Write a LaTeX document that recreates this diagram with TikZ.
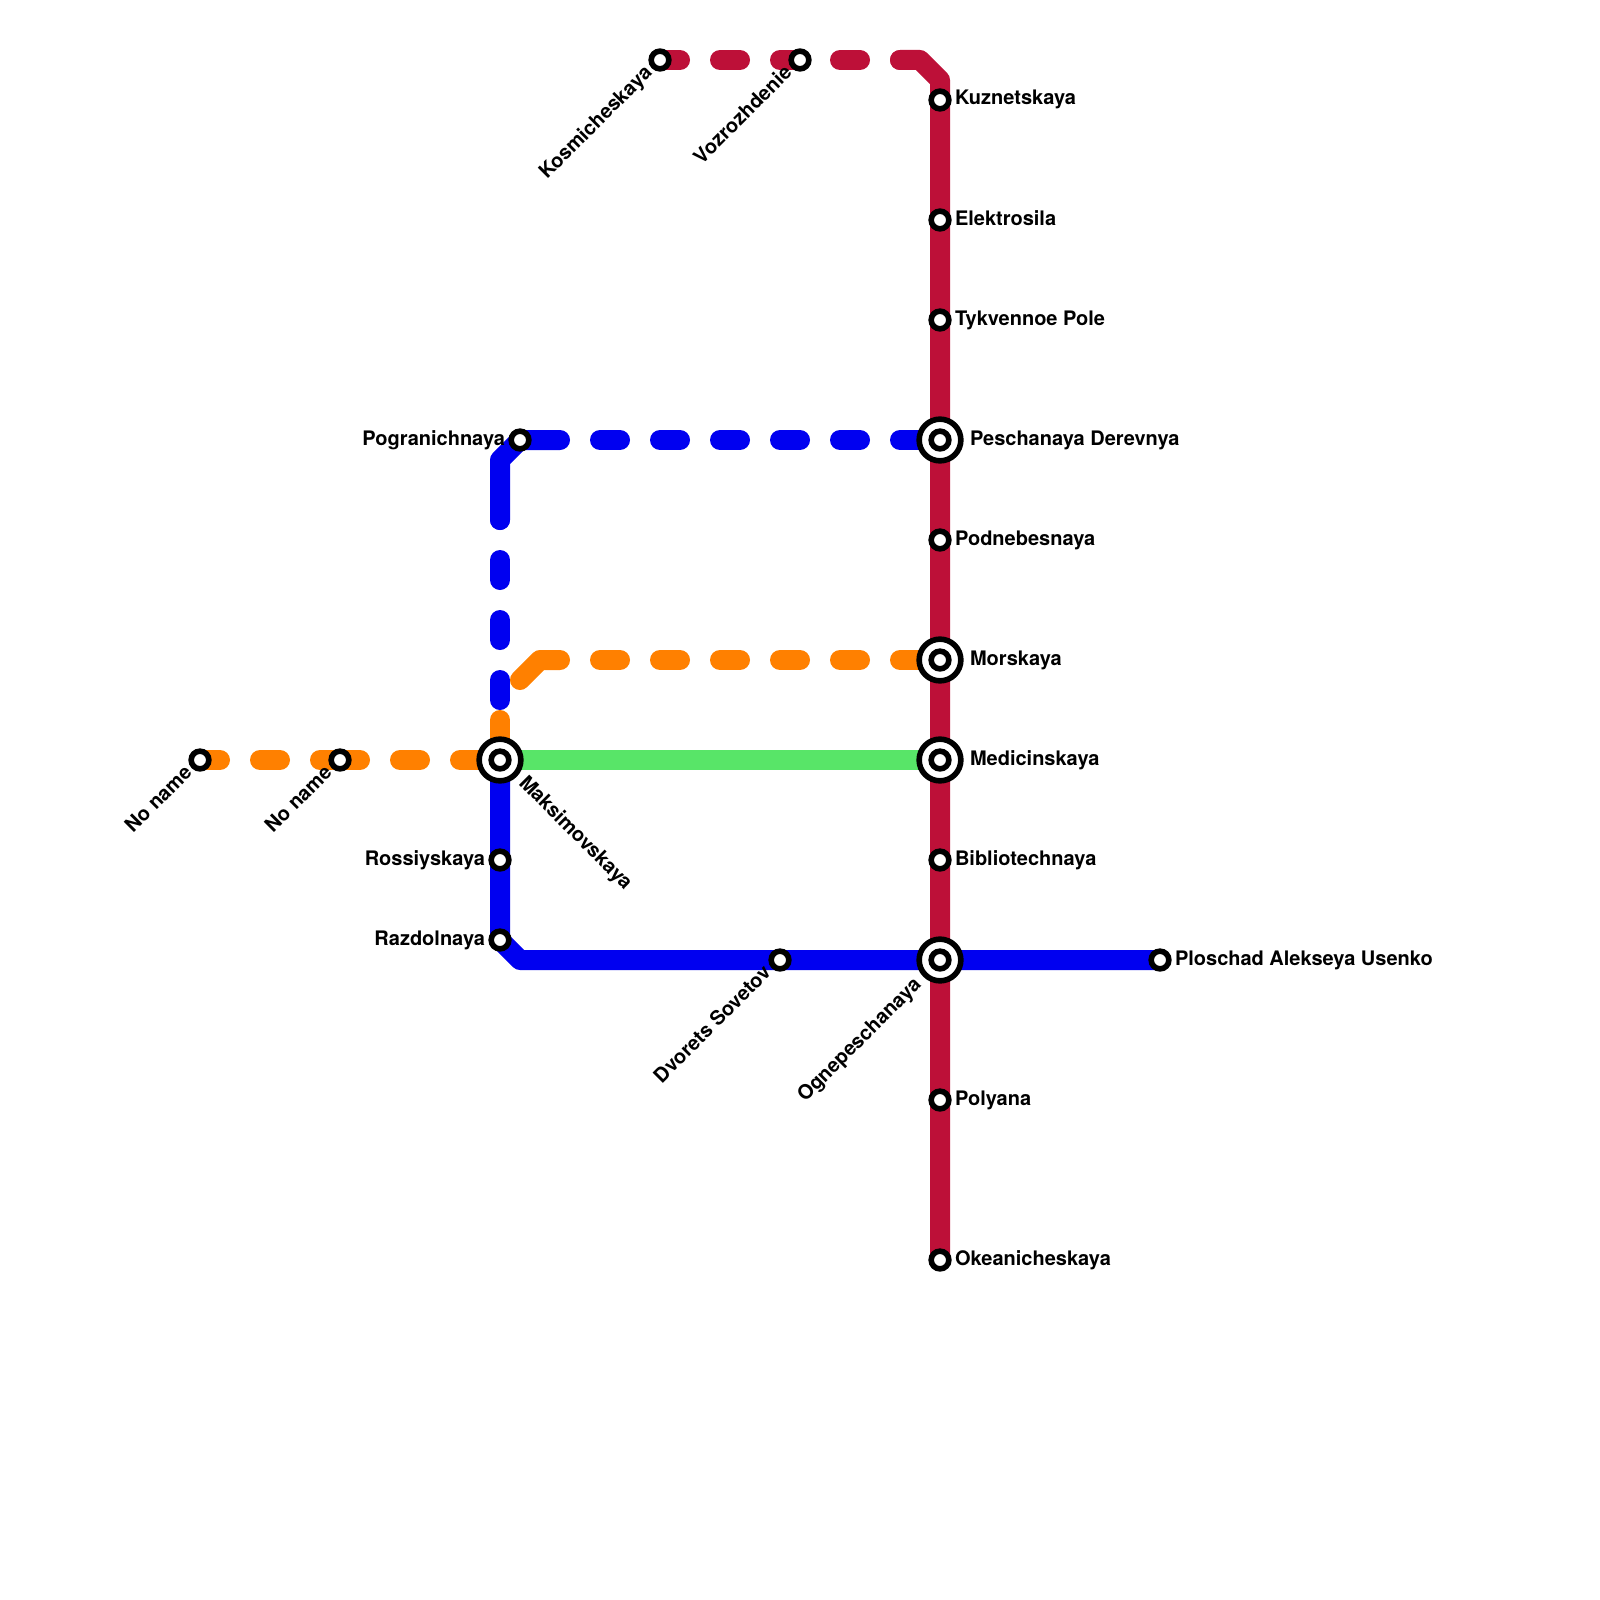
\documentclass[tikz,border=0pt]{standalone}
\usepackage{fontspec}
\setmainfont{TeX Gyre Heros}
\usetikzlibrary{backgrounds}
\definecolor{lred}{HTML}{BD1038}
\definecolor{lblue}{HTML}{0000F0}
\definecolor{lorange}{HTML}{FF8000}
\definecolor{lgreen}{HTML}{58E568}
\tikzset{
  stn/.style={circle,draw=black,fill=white,line width=5.6pt,inner sep=0pt,outer sep=0pt,minimum size=17.7pt},
  hub/.style={circle,draw=black,fill=white,line width=5.6pt,inner sep=0pt,outer sep=0pt,minimum size=41.7pt},
  lab/.style={inner sep=0pt,outer sep=0pt,font=\fontsize{20pt}{20pt}\selectfont\bfseries,text=black},
  rt/.style={lab,anchor=base west},
  lf/.style={lab,anchor=base east},
  dg/.style={lab,anchor=base east,rotate=45},
  track/.style={line width=20pt,line cap=round,line join=round},
  dsh/.style={track,dash pattern=on 20pt off 40pt}
}
\begin{document}
\begin{tikzpicture}[x=1pt,y=-1pt]
\useasboundingbox (0,0) rectangle (1600,1600);
% stations
\node[stn] (kuz) at (940,100) {};
\node[stn] (ele) at (940,220) {};
\node[stn] (tyk) at (940,320) {};
\node[hub] (pes) at (940,440) {};
\node[stn] (pesi) at (940,440) {};
\node[stn] (pod) at (940,540) {};
\node[hub] (mor) at (940,660) {};
\node[stn] (mori) at (940,660) {};
\node[hub] (med) at (940,760) {};
\node[stn] (medi) at (940,760) {};
\node[stn] (bib) at (940,860) {};
\node[hub] (ogn) at (940,960) {};
\node[stn] (ogni) at (940,960) {};
\node[stn] (pol) at (940,1100) {};
\node[stn] (oke) at (940,1260) {};
\node[stn] (plo) at (1160,960) {};
\node[stn] (dvo) at (780,960) {};
\node[hub] (mak) at (500,760) {};
\node[stn] (maki) at (500,760) {};
\node[stn] (ros) at (500,860) {};
\node[stn] (raz) at (500,940) {};
\node[stn] (pog) at (520,440) {};
\node[stn] (kos) at (660,60) {};
\node[stn] (voz) at (800,60) {};
\node[stn] (noa) at (200,760) {};
\node[stn] (nob) at (340,760) {};
% way points
\coordinate (rc1) at (920,60);
\coordinate (rc2) at (940,80);
\coordinate (rs) at (900,60);
\coordinate (bc1) at (500,460);
\coordinate (bs) at (500,520);
\coordinate (be) at (560,440);
\coordinate (bv) at (500,700);
\coordinate (bh) at (600,440);
\coordinate (bc3) at (520,960);
\coordinate (oe) at (480,760);
\coordinate (ot) at (500,720);
\coordinate (oa) at (520,680);
\coordinate (ob) at (540,660);
\coordinate (oc) at (560,660);
\coordinate (od) at (600,660);
\begin{pgfonlayer}{background}
\draw[track,lred] (rs) -- (rc1) -- (rc2) -- (kuz.center) -- (oke.center);
\draw[dsh,lred] (kos.center) -- (rs);
\draw[track,lgreen] (mak.center) -- (med.center);
\draw[track,lorange] (mak.center) -- (ot);
\draw[track,lorange] (oa) -- (ob) -- (oc);
\draw[dsh,lorange] (noa.center) -- (nob.center);
\draw[dsh,lorange] (nob.center) -- (oe);
\draw[dsh,lorange] (od) -- (mor.center);
\draw[track,lblue] (mak.center) -- (ros.center) -- (raz.center) -- (bc3) -- (dvo.center) -- (ogn.center) -- (plo.center);
\draw[track,lblue] (bs) -- (bc1) -- (pog.center) -- (be);
\draw[dsh,lblue] (bv) -- (bs);
\draw[dsh,lblue] (bh) -- (pes.center);
\end{pgfonlayer}
% labels
\node[rt] (lkuz) at (955,105) {Kuznetskaya};
\node[rt] (lele) at (955,225) {Elektrosila};
\node[rt] (ltyk) at (955,325) {Tykvennoe Pole};
\node[rt] (lpes) at (970,445) {Peschanaya Derevnya};
\node[rt] (lpod) at (955,545) {Podnebesnaya};
\node[rt] (lmor) at (970,665) {Morskaya};
\node[rt] (lmed) at (970,765) {Medicinskaya};
\node[rt] (lbib) at (955,865) {Bibliotechnaya};
\node[rt] (lpol) at (955,1105) {Polyana};
\node[rt] (loke) at (955,1265) {Okeanicheskaya};
\node[rt] (lplo) at (1175,965) {Ploschad Alekseya Usenko};
\node[lf] (lpog) at (505,445) {Pogranichnaya};
\node[lf] (lros) at (485,865) {Rossiyskaya};
\node[lf] (lraz) at (485,945) {Razdolnaya};
\node[dg] (lkos) at (653,74) {Kosmicheskaya};
\node[dg] (lvoz) at (793,74) {Vozrozhdenie};
\node[dg] (ldvo) at (772,974) {Dvorets Sovetov};
\node[dg] (logn) at (922,986) {Ognepeschanaya};
\node[dg] (lnoa) at (193,774) {No name};
\node[dg] (lnob) at (333,774) {No name};
\node[lab,anchor=base west,rotate=-45] (lmak) at (518,784) {Maksimovskaya};
\end{tikzpicture}
\end{document}
